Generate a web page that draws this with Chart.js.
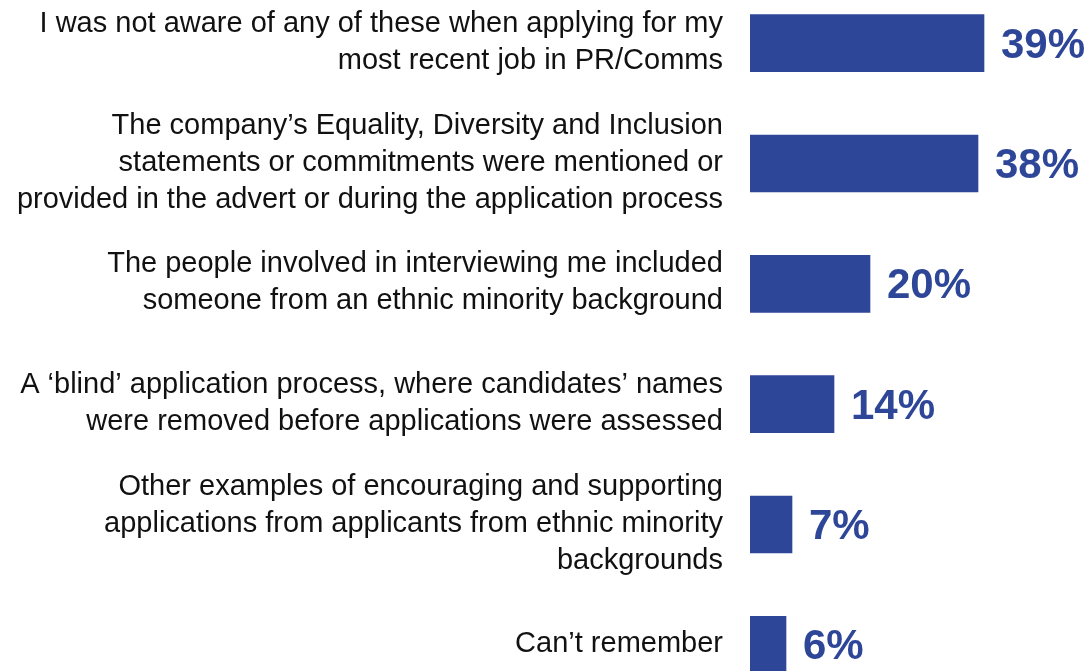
<!DOCTYPE html>
<html>
<head>
<meta charset="utf-8">
<script src="https://cdn.jsdelivr.net/npm/chart.js@4/dist/chart.umd.min.js"></script>
<style>
  html, body { margin: 0; padding: 0; background: #fff; overflow: hidden; }
  #wrap { position: absolute; left: 0; top: -17px; width: 1091px; height: 722px; }
</style>
</head>
<body>
<div id="wrap"><canvas id="myChart"></canvas></div>
<script>
// answers, one array of lines per bar
var categories = [
  ['I was not aware of any of these when applying for my', 'most recent job in PR/Comms'],
  ['The company\u2019s Equality, Diversity and Inclusion', 'statements or commitments were mentioned or', 'provided in the advert or during the application process'],
  ['The people involved in interviewing me included', 'someone from an ethnic minority background'],
  ['A \u2018blind\u2019 application process, where candidates\u2019 names', 'were removed before applications were assessed'],
  ['Other examples of encouraging and supporting', 'applications from applicants from ethnic minority', 'backgrounds'],
  ['Can\u2019t remember']
];
var percents = [39, 38, 20, 14, 7, 6];

var barColor = '#2E4698';
var fontFamily = 'Arial, "Liberation Sans", Helvetica, sans-serif';

// category text to the left of the bars, plus "NN%" past the end of each bar
var barText = {
  id: 'barText',
  afterDatasetsDraw: function(chart) {
    var ctx = chart.ctx;
    var meta = chart.getDatasetMeta(0);
    var lineH = 37;
    ctx.save();
    ctx.textBaseline = 'middle';
    meta.data.forEach(function(bar, i) {
      var lines = categories[i];
      var y0 = bar.y - (lines.length - 1) * lineH / 2;
      ctx.fillStyle = '#111';
      ctx.font = '29px ' + fontFamily;
      ctx.textAlign = 'right';
      lines.forEach(function(line, j) {
        ctx.fillText(line, chart.chartArea.left - 27, y0 + j * lineH - 1);
      });
      ctx.fillStyle = barColor;
      ctx.font = 'bold 42px ' + fontFamily;
      ctx.textAlign = 'left';
      ctx.fillText(percents[i] + '%', bar.x + 17, bar.y + 3);
    });
    ctx.restore();
  }
};

function draw() {
  var ctx = document.getElementById('myChart');
  new Chart(ctx, {
    type: 'bar',
    data: {
      labels: categories.map(function(c) { return c.join(' '); }),
      datasets: [{
        data: percents,
        backgroundColor: barColor,
        borderWidth: 0,
        barThickness: 57
      }]
    },
    options: {
      indexAxis: 'y',
      responsive: true,
      maintainAspectRatio: false,
      animation: false,
      layout: { padding: { left: 750, right: 41, top: 0, bottom: 0 } },
      plugins: {
        legend: { display: false },
        tooltip: { enabled: false }
      },
      scales: {
        x: { display: false, min: 0, max: 50 },
        y: { display: false }
      }
    },
    plugins: [barText]
  });
}

if (document.fonts && document.fonts.load) {
  Promise.all([
    document.fonts.load('29px ' + fontFamily),
    document.fonts.load('bold 42px ' + fontFamily)
  ]).then(draw, draw);
} else {
  draw();
}
</script>
</body>
</html>
